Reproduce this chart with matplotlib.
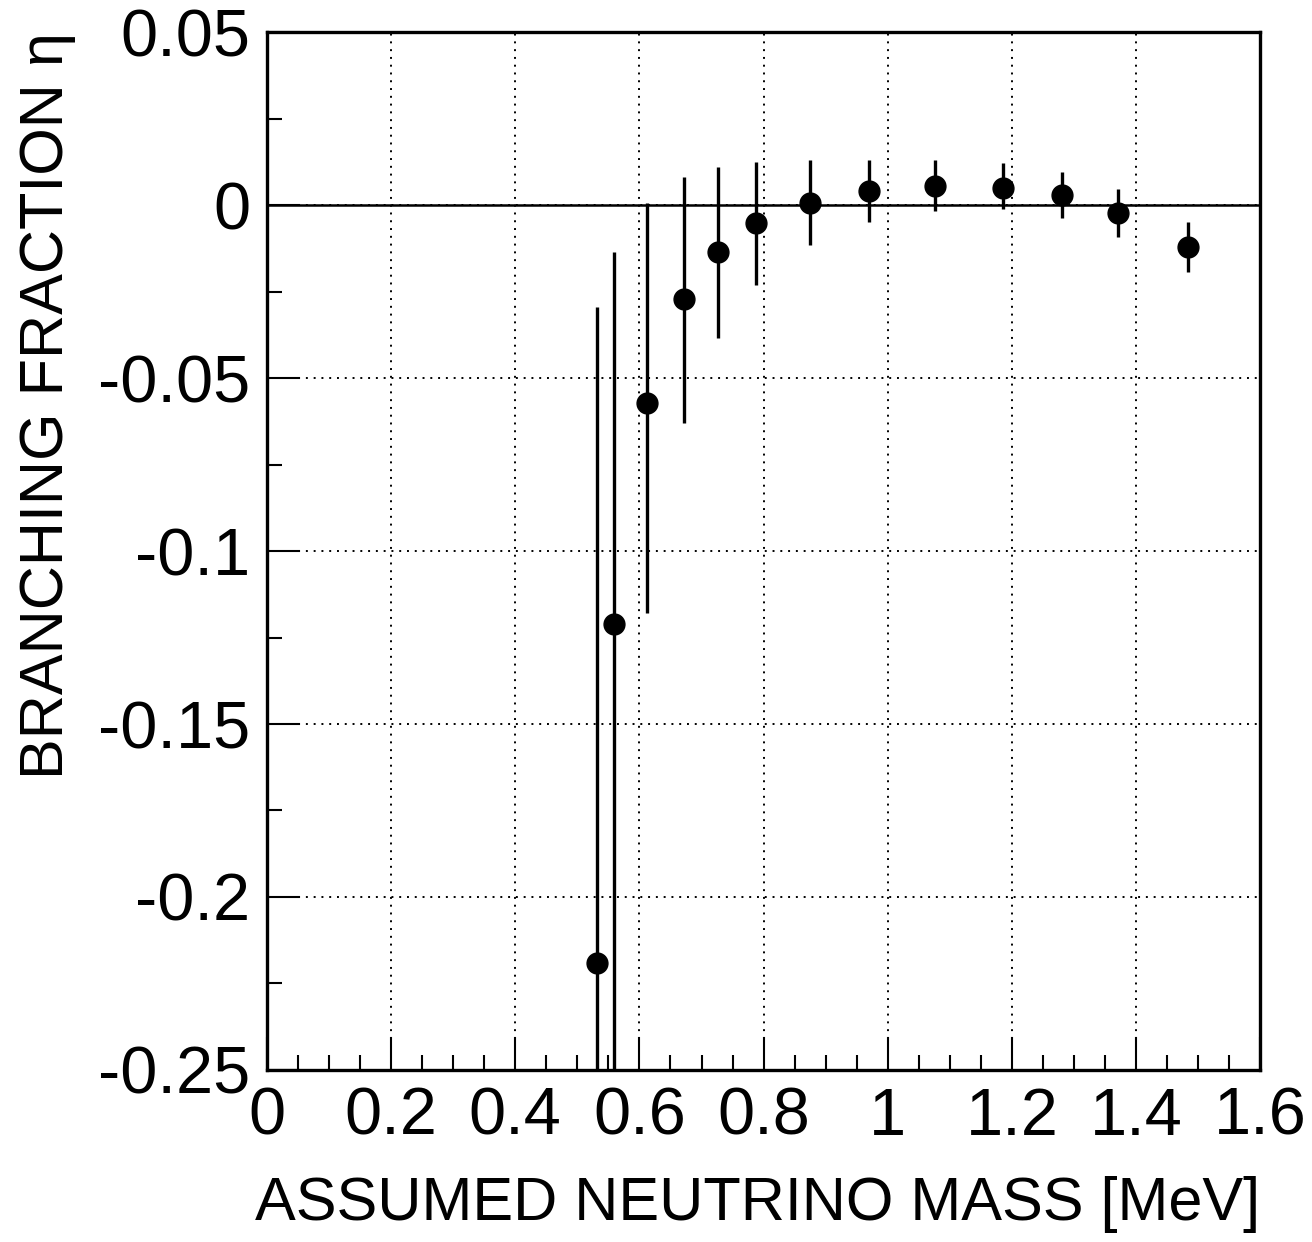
import numpy as np
import matplotlib
matplotlib.use('agg')
import matplotlib.pyplot as plt
from matplotlib.ticker import MultipleLocator

plt.rcParams['font.family'] = ['Liberation Sans', 'DejaVu Sans']

# assumed neutrino mass [MeV]
mass = [0.532, 0.559, 0.612, 0.672, 0.727, 0.788, 0.875, 0.970, 1.076, 1.186, 1.281, 1.371, 1.484]
# branching fraction eta
eta = [-0.219, -0.121, -0.0572, -0.0272, -0.0136, -0.0052, 0.0006, 0.0040, 0.0055, 0.0050, 0.0029, -0.0023, -0.0121]
# error bar ends
eta_hi = [-0.0295, -0.0136, 0.0006, 0.0081, 0.0110, 0.0125, 0.0130, 0.0130, 0.0130, 0.0122, 0.0095, 0.0046, -0.0049]
eta_lo = [-0.30, -0.30, -0.118, -0.063, -0.0384, -0.0231, -0.0116, -0.0049, -0.0017, -0.0012, -0.0038, -0.0092, -0.0194]

xticks = [0, 0.2, 0.4, 0.6, 0.8, 1.0, 1.2, 1.4, 1.6]
xlabels = ['0', '0.2', '0.4', '0.6', '0.8', '1', '1.2', '1.4', '1.6']
yticks = [-0.25, -0.2, -0.15, -0.1, -0.05, 0, 0.05]
ylabels = ['-0.25', '-0.2', '-0.15', '-0.1', '-0.05', '0', '0.05']

mass = np.array(mass)
eta = np.array(eta)
err = [eta - np.array(eta_lo), np.array(eta_hi) - eta]

fig = plt.figure(figsize=(13.12, 12.42), dpi=100)
ax = fig.add_axes([0.2035, 0.1385, 0.757, 0.8357])

ax.axhline(0, color='black', lw=1.8, zorder=2)
ax.errorbar(mass, eta, yerr=err, fmt='o', color='black', ms=15,
            elinewidth=2.4, capsize=0, zorder=3)

ax.set_xlim(0, 1.6)
ax.set_ylim(-0.25, 0.05)
ax.set_xticks(xticks, xlabels)
ax.set_yticks(yticks, ylabels)
ax.xaxis.set_minor_locator(MultipleLocator(0.05))
ax.yaxis.set_minor_locator(MultipleLocator(0.025))
ax.grid(True, which='major', color='black', ls=(0, (1, 3)), lw=1.4)

ax.tick_params(which='major', direction='in', length=24, width=1.5, labelsize=48, pad=12,
               right=False, top=False)
ax.tick_params(which='minor', direction='in', length=11, width=1.5, right=False, top=False)
for s in ax.spines.values():
    s.set_linewidth(2.4)

ax.set_xlabel('ASSUMED NEUTRINO MASS [MeV]', fontsize=44, loc='right', labelpad=20)
ax.set_ylabel('BRANCHING FRACTION η', fontsize=44, loc='top', labelpad=16)

fig.savefig('out.png', dpi=100, facecolor='white')
